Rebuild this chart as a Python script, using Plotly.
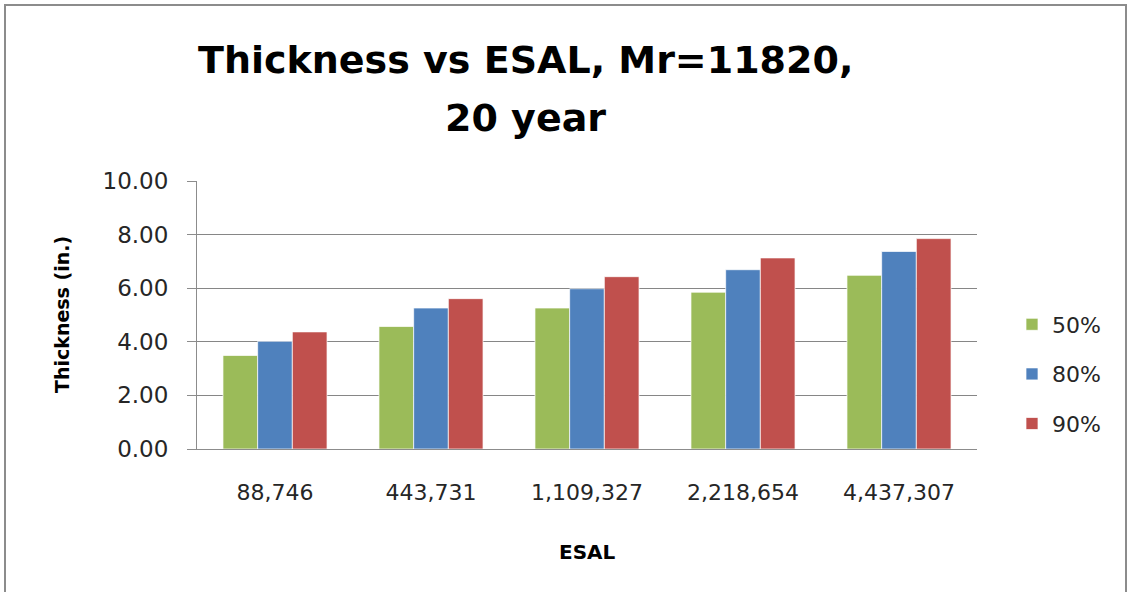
import plotly.graph_objects as go

categories = ["88,746", "443,731", "1,109,327", "2,218,654", "4,437,307"]
series_names = ["50%", "80%", "90%"]
values_50 = [3.49, 4.57, 5.26, 5.85, 6.48]
values_80 = [4.02, 5.26, 5.98, 6.69, 7.37]
values_90 = [4.37, 5.61, 6.43, 7.13, 7.85]
colors = ["#9BBB59", "#4F81BD", "#C0504D"]
y_ticks = [0, 2, 4, 6, 8, 10]

W, H = 1127, 592
L, R, T, B = 197, 977, 181, 449  # plot area in pixels
pw, ph = R - L, B - T

def px(x):
    return (x - L) / pw

def py(y):
    return (B - y) / ph

fig = go.Figure()
for i, (name, vals) in enumerate(zip(series_names, [values_50, values_80, values_90])):
    fig.add_trace(go.Bar(
        x=categories, y=vals, name=name, legendgroup=name,
        marker=dict(color=colors[i], line=dict(color="rgba(255,255,255,0.7)", width=1)),
    ))

font_main = "DejaVu Sans"
fig.update_layout(
    width=W, height=H,
    margin=dict(l=L, r=W - R, t=T, b=H - B, autoexpand=False),
    paper_bgcolor="white", plot_bgcolor="white",
    barmode="group", bargap=0.333, bargroupgap=0,
    showlegend=True,
    legend=dict(x=px(1012), y=py(374), xanchor="left", yanchor="middle",
                font=dict(family=font_main, size=22, color="#262626"),
                tracegroupgap=18, traceorder="grouped", bgcolor="rgba(0,0,0,0)"),
    font=dict(family=font_main, color="#262626"),
)
fig.update_xaxes(
    showline=True, linecolor="#8c8c8c", linewidth=1,
    showgrid=False, ticks="", tickfont=dict(family=font_main, size=22, color="#262626"),
    ticklabelstandoff=24,
)
fig.update_yaxes(
    range=[0, 10], tickvals=y_ticks, tickformat=".2f",
    showline=True, linecolor="#8c8c8c", linewidth=1,
    showgrid=True, gridcolor="#868686", gridwidth=1.3,
    ticks="outside", ticklen=9, tickcolor="#8c8c8c",
    tickfont=dict(family=font_main, size=23, color="#262626"),
    ticklabelstandoff=14, zeroline=False,
)

annotations = [
    dict(text="<b>Thickness vs ESAL, Mr=11820,</b>", x=px(525), y=py(60)),
    dict(text="<b>20 year</b>", x=px(525), y=py(118)),
]
for a in annotations:
    fig.add_annotation(xref="paper", yref="paper", xanchor="center", yanchor="middle",
                       showarrow=False, font=dict(family=font_main, size=38, color="black"), **a)
fig.add_annotation(text="<b>Thickness (in.)</b>", xref="paper", yref="paper",
                   x=px(62), y=0.5, xanchor="center", yanchor="middle", textangle=-90,
                   showarrow=False, font=dict(family=font_main, size=19, color="black"))
fig.add_annotation(text="<b>ESAL</b>", xref="paper", yref="paper",
                   x=0.5, y=py(552), xanchor="center", yanchor="middle",
                   showarrow=False, font=dict(family=font_main, size=20, color="black"))

fig.add_shape(type="rect", xref="paper", yref="paper",
              x0=px(5), x1=px(1126), y0=py(5), y1=py(640),
              line=dict(color="#8c8c8c", width=2), fillcolor="rgba(0,0,0,0)", layer="below")

fig.write_html("out.html", config={"displayModeBar": False},
               post_script="document.body.style.margin='0px';")
